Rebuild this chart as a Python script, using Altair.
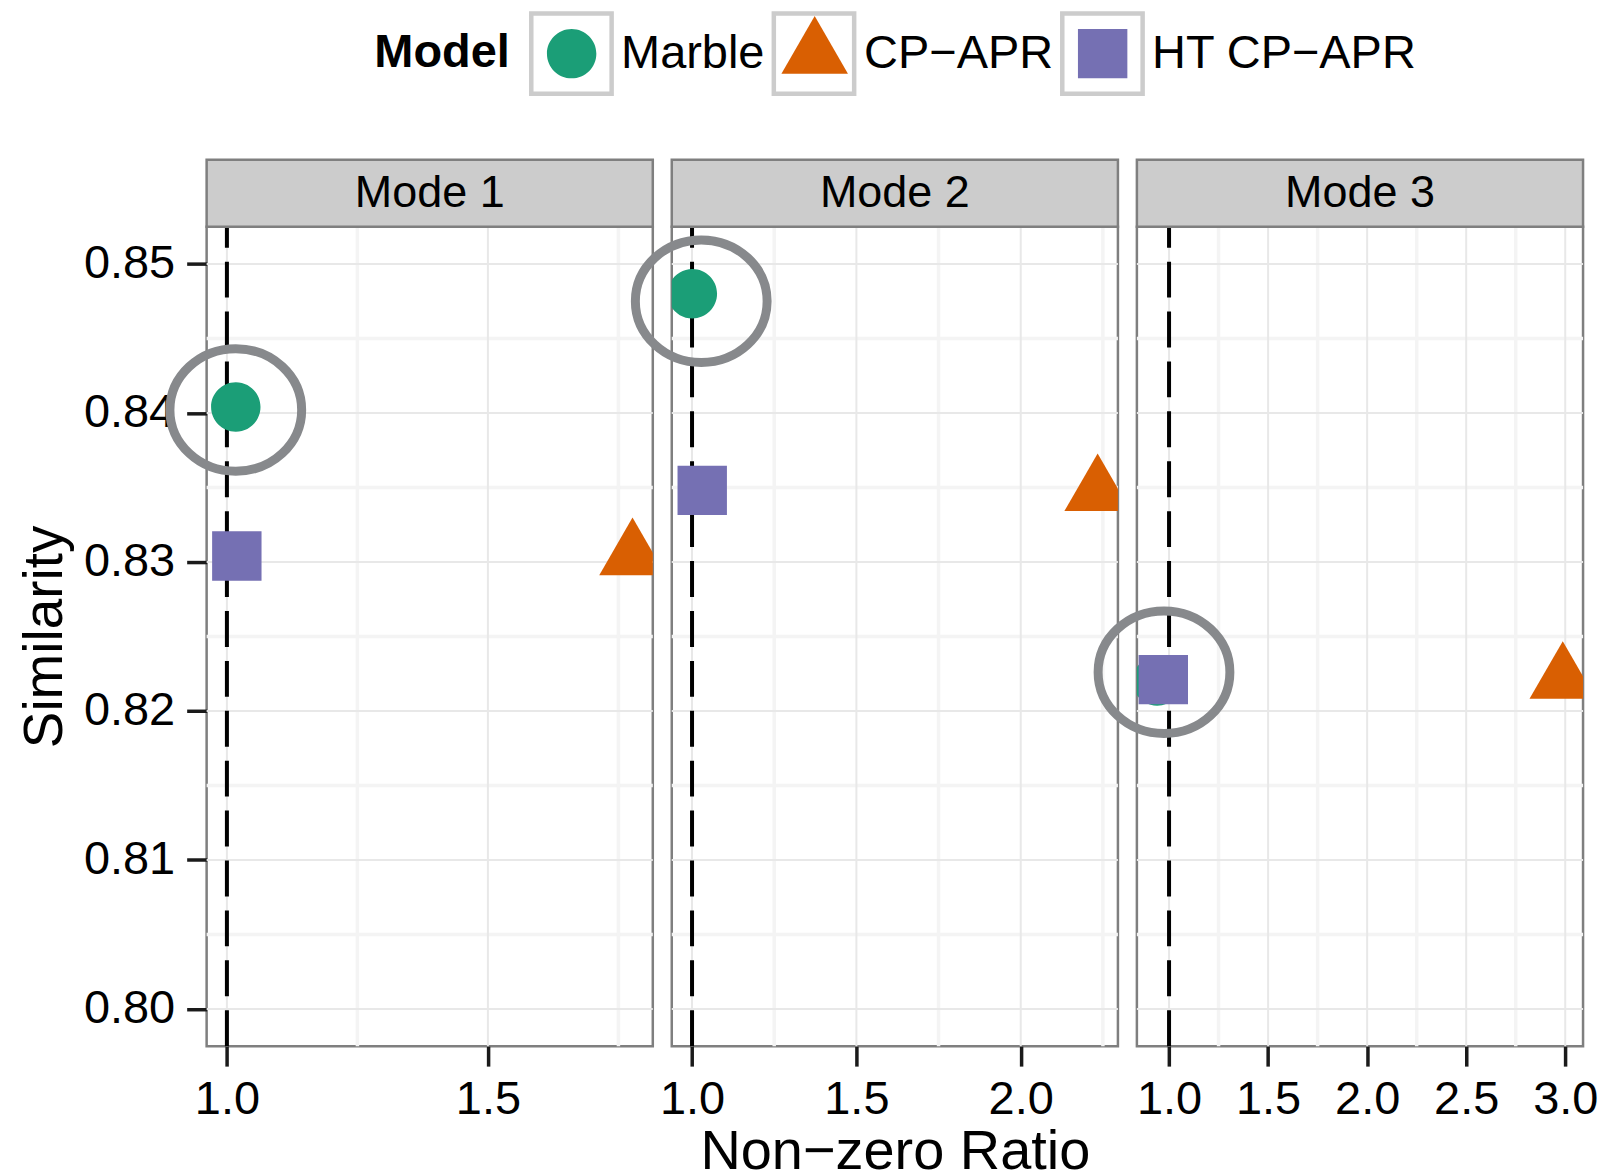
import altair as alt
import pandas as pd

# ---------------- data ----------------
modes = ["Mode 1", "Mode 2", "Mode 3"]
models = ["Marble", "CP−APR", "HT CP−APR"]
model_colors = ["#1B9E77", "#D95F02", "#7570B3"]

ratio_mode1 = [1.017, 1.777, 1.019]
ratio_mode2 = [1.001, 2.234, 1.031]
ratio_mode3 = [0.940, 2.9875, 0.971]
similarity_mode1 = [0.8404, 0.8304, 0.8304]
similarity_mode2 = [0.8480, 0.8347, 0.8348]
similarity_mode3 = [0.8220, 0.8221, 0.8221]

highlight_ratio = [1.017, 1.028, 0.9745]
highlight_similarity = [0.8402, 0.8475, 0.8226]

baseline_ratio = [1.0]

x_ticks_mode1 = [1.0, 1.5]
x_ticks_mode2 = [1.0, 1.5, 2.0]
x_ticks_mode3 = [1.0, 1.5, 2.0, 2.5, 3.0]
x_minor_mode1 = [1.25, 1.75]
x_minor_mode2 = [1.25, 1.75, 2.25]
x_minor_mode3 = [1.25, 1.75, 2.25, 2.75]
y_ticks = [0.80, 0.81, 0.82, 0.83, 0.84, 0.85]
y_minor = [0.805, 0.815, 0.825, 0.835, 0.845]
y_limits = [0.80, 0.85]

ratios = [ratio_mode1, ratio_mode2, ratio_mode3]
sims = [similarity_mode1, similarity_mode2, similarity_mode3]
x_ticks = [x_ticks_mode1, x_ticks_mode2, x_ticks_mode3]
x_minor = [x_minor_mode1, x_minor_mode2, x_minor_mode3]

# ---------------- style ----------------
W, H = 447, 821
STRIP_H = 67
FONT = "Liberation Sans"
# symbol paths share the same left extent so legend entries line up evenly
CIRCLE = "M-1.347,0L-1.347,0M1,0A1,1,0,1,1,-1,0A1,1,0,1,1,1,0Z"
TRIANGLE = "M0,-1.555L1.347,0.778L-1.347,0.778Z"
SQUARE = "M-1.347,0L-1.347,0M-1,-1L1,-1L1,1L-1,1Z"
ELLIPSE = "M-1,0A1,0.93,0,1,0,1,0A1,0.93,0,1,0,-1,0Z"

ypad = 0.05 * (y_limits[1] - y_limits[0])
y_scale = alt.Scale(domain=[y_limits[0] - ypad, y_limits[1] + ypad], nice=False, zero=False)

# ids for the key-box legend (kept distinct from the model legend so they do not merge)
key_ids = [str(k + 1) for k in range(len(models))]
key_label_expr = "[" + ",".join("'" + m + "'" for m in models) + "][toNumber(datum.value) - 1]"

# legend with the coloured symbols
legend_main = alt.Legend(
    title="Model", orient="none", legendX=168, legendY=-198.5, direction="horizontal",
    titleOrient="left", titleFontSize=47, titleFontWeight="bold", titleColor="black",
    titlePadding=36.7, titleBaseline="middle", titleAnchor="middle", titleFont=FONT,
    labelFontSize=47, labelColor="black", labelOffset=24.5, labelLimit=400, labelFont=FONT,
    symbolSize=2450, symbolStrokeWidth=0, symbolOpacity=1, columnPadding=15.5, padding=0,
)
# legend drawing only the grey key boxes behind the symbols
legend_keys = alt.Legend(
    title=None, orient="none", legendX=323, legendY=-216, direction="horizontal",
    labelFontSize=47, labelOpacity=0, labelOffset=7, labelLimit=400, labelFont=FONT,
    labelExpr=key_label_expr,
    symbolType="square", symbolStrokeColor="#cccccc", symbolStrokeWidth=4.5,
    symbolFillColor="transparent", symbolOpacity=1, columnPadding=0, padding=0,
)


def panel(i):
    xs = ratios[i]
    lo = min(min(xs), baseline_ratio[0])
    hi = max(max(xs), baseline_ratio[0])
    pad = 0.05 * (hi - lo)
    x_scale = alt.Scale(domain=[lo - pad, hi + pad], nice=False, zero=False)
    x_axis = alt.Axis(
        values=x_ticks[i], format=".1f", grid=False, domain=False, tickSize=20, tickWidth=3.5,
        tickColor="#1a1a1a", labelFontSize=47, labelColor="black", labelPadding=10,
        labelFlush=False, labelOverlap=False, titleFontSize=56, titleFontWeight="normal",
        titleColor="black", titlePadding=3, labelFont=FONT, titleFont=FONT,
    )
    x_title = "Non−zero Ratio" if i == 1 else None
    if i == 0:
        y_axis = alt.Axis(
            values=y_ticks, format=".2f", grid=False, domain=False, tickSize=20, tickWidth=3.5,
            tickColor="#1a1a1a", labelFontSize=47, labelColor="black", labelPadding=12,
            labelFlush=False, labelOverlap=False, titleFontSize=55, titleFontWeight="normal",
            titleColor="black", titlePadding=10, labelFont=FONT, titleFont=FONT,
        )
    else:
        y_axis = None

    def X(field):
        return alt.X(field, type="quantitative", scale=x_scale, axis=x_axis, title=x_title)

    def Y(field):
        return alt.Y(field, type="quantitative", scale=y_scale, axis=y_axis, title="Similarity")

    pts = pd.DataFrame({"model": models, "key": key_ids, "ratio": xs, "similarity": sims[i]})

    minor_y = alt.Chart(pd.DataFrame({"y": y_minor})).mark_rule(
        color="#f4f4f4", strokeWidth=3.5).encode(y=Y("y"))
    minor_x = alt.Chart(pd.DataFrame({"x": x_minor[i]})).mark_rule(
        color="#f4f4f4", strokeWidth=3.5).encode(x=X("x"))
    major_y = alt.Chart(pd.DataFrame({"y": y_ticks})).mark_rule(
        color="#e8e8e8", strokeWidth=2).encode(y=Y("y"))
    major_x = alt.Chart(pd.DataFrame({"x": x_ticks[i]})).mark_rule(
        color="#e8e8e8", strokeWidth=2).encode(x=X("x"))
    vline = alt.Chart(pd.DataFrame({"x": baseline_ratio})).mark_rule(
        color="black", strokeWidth=4, strokeDash=[36, 14]).encode(
        x=X("x"), y=alt.value(H), y2=alt.value(0))
    points = alt.Chart(pts).mark_point(filled=True, size=2450, opacity=1, clip=True).encode(
        x=X("ratio"), y=Y("similarity"),
        color=alt.Color("model:N", scale=alt.Scale(domain=models, range=model_colors), legend=legend_main),
        shape=alt.Shape("model:N", scale=alt.Scale(domain=models, range=[CIRCLE, TRIANGLE, SQUARE]),
                        legend=legend_main),
    )
    ring = alt.Chart(pd.DataFrame({"x": [highlight_ratio[i]], "y": [highlight_similarity[i]]})).mark_point(
        shape=ELLIPSE, filled=False, size=17424, strokeWidth=9, color="#87898c", opacity=1).encode(
        x=X("x"), y=Y("y"))
    strip_df = pd.DataFrame({"mode": [modes[i]]})
    strip_rect = alt.Chart(strip_df).mark_rect(
        fill="#cccccc", stroke="#7f7f7f", strokeWidth=2.5).encode(
        x=alt.value(0), x2=alt.value(W), y=alt.value(-STRIP_H), y2=alt.value(0))
    strip_text = alt.Chart(strip_df).mark_text(
        fontSize=45, font=FONT, color="black", align="center", baseline="middle").encode(
        text="mode:N", x=alt.value(W / 2), y=alt.value(-STRIP_H / 2))

    layers = [minor_y, minor_x, major_y, major_x, vline, points, ring, strip_rect, strip_text]
    if i == 0:
        keys = alt.Chart(pts).mark_point(filled=False, opacity=0, shape="square").encode(
            x=X("ratio"), y=Y("similarity"),
            size=alt.Size("key:N", scale=alt.Scale(domain=key_ids, range=[6480, 6480, 6480]),
                          legend=legend_keys),
        )
        layers = [keys] + layers
    return alt.layer(*layers).properties(width=W, height=H)


chart = alt.hconcat(panel(0), panel(1), panel(2), spacing=19, bounds="flush").properties(
    padding={"left": 8, "top": 2, "right": 10, "bottom": 0}
).configure(font=FONT).configure_view(stroke="#7f7f7f", strokeWidth=2.5)

chart.save("out.html", embed_options={"renderer": "svg", "actions": False})
